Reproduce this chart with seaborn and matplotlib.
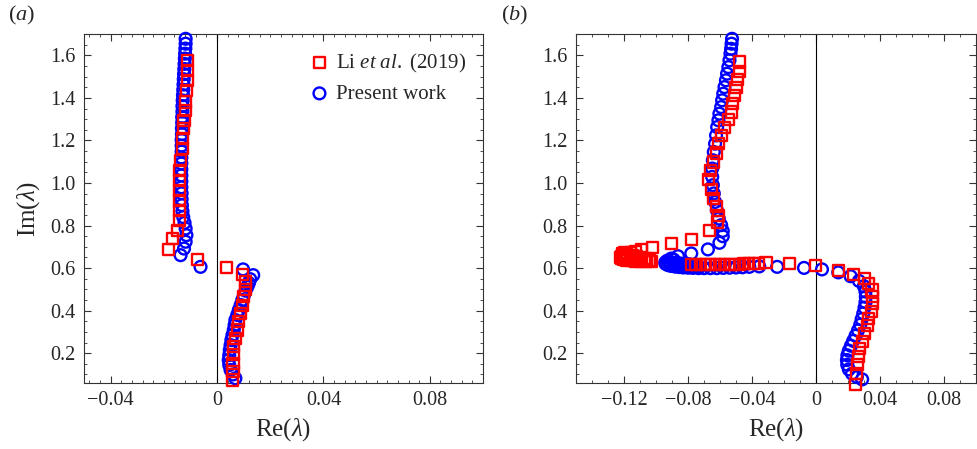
import numpy as np
import pandas as pd
import seaborn as sns
import matplotlib.pyplot as plt
from matplotlib.ticker import MultipleLocator, FixedLocator

# ---- panel (a) ----
a_li_re = [-0.0112, -0.0112, -0.0112, -0.0115, -0.0118, -0.0118, -0.0124, -0.0126, -0.0130, -0.0130,
           -0.0136, -0.0140, -0.0140, -0.0140, -0.0140, -0.0140, -0.0140, -0.0147, -0.0168, -0.0181,
           -0.0072, 0.0036,
           0.0095, 0.0107, 0.0107, 0.0101, 0.0095, 0.0088, 0.0082, 0.0076, 0.0069, 0.0063,
           0.0063, 0.0060, 0.0060, 0.0057]
a_li_im = [1.577, 1.530, 1.483, 1.436, 1.381, 1.342, 1.295, 1.256, 1.209, 1.162,
           1.107, 1.060, 1.013, 0.966, 0.919, 0.872, 0.825, 0.778, 0.739, 0.688,
           0.641, 0.603,
           0.572, 0.536, 0.500, 0.465, 0.426, 0.387, 0.348, 0.309, 0.270, 0.231,
           0.192, 0.153, 0.113, 0.074]

a_pw_re = [-0.0118, -0.0118, -0.0119, -0.0120, -0.0121, -0.0122, -0.0123, -0.0124, -0.0125, -0.0126,
           -0.0127, -0.0128, -0.0129, -0.0130, -0.0130, -0.0131, -0.0131, -0.0132, -0.0132, -0.0133,
           -0.0133, -0.0133, -0.0134, -0.0134, -0.0134, -0.0134, -0.0134, -0.0134, -0.0133, -0.0133,
           -0.0132, -0.0130, -0.0127, -0.0122, -0.0118, -0.0115, -0.0118, -0.0124, -0.0137, -0.0062,
           0.0098, 0.0136, 0.0125, 0.0120, 0.0114, 0.0107, 0.0101, 0.0095, 0.0089, 0.0082,
           0.0076, 0.0069, 0.0066, 0.0063, 0.0058, 0.0054, 0.0051, 0.0048, 0.0046, 0.0044,
           0.0046, 0.0051, 0.0060, 0.0069]
a_pw_im = [1.678, 1.655, 1.632, 1.608, 1.585, 1.560, 1.536, 1.512, 1.488, 1.463,
           1.438, 1.413, 1.388, 1.362, 1.336, 1.310, 1.284, 1.257, 1.230, 1.203,
           1.176, 1.148, 1.120, 1.092, 1.064, 1.036, 1.008, 0.980, 0.952, 0.924,
           0.896, 0.868, 0.840, 0.813, 0.786, 0.755, 0.724, 0.692, 0.661, 0.606,
           0.594, 0.567, 0.548, 0.530, 0.512, 0.494, 0.472, 0.450, 0.427, 0.403,
           0.380, 0.356, 0.332, 0.309, 0.285, 0.262, 0.238, 0.215, 0.191, 0.168,
           0.144, 0.121, 0.100, 0.082]

# ---- panel (b) ----
b_li_re = [-0.0479, -0.0479, -0.0490, -0.0500, -0.0510, -0.0521, -0.0531, -0.0546, -0.0573, -0.0593,
           -0.0608, -0.0624, -0.0641, -0.0662, -0.0670, -0.0655, -0.0641, -0.0620, -0.0608, -0.0614,
           -0.0666, -0.0780, -0.0904, -0.1023, -0.1090,
           -0.1130, -0.1160, -0.1185, -0.1205, -0.1218, -0.1222, -0.1218, -0.1205, -0.1185, -0.1160,
           -0.1130, -0.1095, -0.1060, -0.1027,
           -0.1210, -0.1195, -0.1200, -0.1190, -0.1175, -0.1155, -0.1130, -0.1100, -0.1070, -0.1040,
           -0.1150, -0.1120, -0.1090, -0.1060,
           -0.0780, -0.0750, -0.0720, -0.0690, -0.0660, -0.0630, -0.0600, -0.0570, -0.0540, -0.0510,
           -0.0480, -0.0450, -0.0420, -0.0390, -0.0360, -0.0313, -0.0168, -0.0002,
           0.0143, 0.0236, 0.0305, 0.0330, 0.0350, 0.0355, 0.0355, 0.0347, 0.0330, 0.0320,
           0.0305, 0.0288, 0.0272, 0.0263, 0.0257, 0.0251, 0.0247]
b_li_im = [1.569, 1.526, 1.486, 1.451, 1.412, 1.373, 1.334, 1.298, 1.261, 1.224,
           1.185, 1.141, 1.099, 1.060, 1.016, 0.969, 0.927, 0.888, 0.849, 0.817,
           0.775, 0.736, 0.716, 0.697, 0.685,
           0.679, 0.674, 0.668, 0.662, 0.656, 0.650, 0.645, 0.640, 0.637, 0.634,
           0.632, 0.631, 0.630, 0.630,
           0.668, 0.674, 0.660, 0.652, 0.646, 0.642, 0.639, 0.637, 0.636, 0.635,
           0.660, 0.655, 0.650, 0.645,
           0.618, 0.618, 0.618, 0.618, 0.618, 0.618, 0.618, 0.618, 0.619, 0.619,
           0.619, 0.620, 0.620, 0.621, 0.622, 0.625, 0.622, 0.614,
           0.587, 0.572, 0.552, 0.528, 0.497, 0.465, 0.434, 0.395, 0.364, 0.332,
           0.293, 0.254, 0.223, 0.184, 0.145, 0.106, 0.052]

b_pw_re = [-0.0525, -0.0528, -0.0531, -0.0535, -0.0541, -0.0548, -0.0556, -0.0563, -0.0572, -0.0580,
           -0.0587, -0.0593, -0.0604, -0.0610, -0.0618, -0.0625, -0.0631, -0.0639, -0.0645, -0.0649,
           -0.0649, -0.0645, -0.0639, -0.0631, -0.0620, -0.0608, -0.0593, -0.0583, -0.0583, -0.0604,
           -0.0676, -0.0780, -0.0863,
           -0.0905, -0.0930, -0.0942, -0.0940, -0.0925, -0.0905, -0.0880, -0.0855, -0.0830, -0.0800,
           -0.0890, -0.0915, -0.0925, -0.0915, -0.0890, -0.0860, -0.0830, -0.0800, -0.0770, -0.0740,
           -0.0880, -0.0850, -0.0820, -0.0790, -0.0760,
           -0.0770, -0.0735, -0.0700, -0.0660, -0.0620, -0.0580, -0.0540, -0.0500, -0.0460, -0.0417,
           -0.0355, -0.0243, -0.0075, 0.0037, 0.0139, 0.0216, 0.0268, 0.0299, 0.0309, 0.0311,
           0.0309, 0.0303, 0.0295, 0.0285, 0.0276, 0.0262, 0.0247, 0.0232, 0.0218, 0.0205,
           0.0196, 0.0193, 0.0195, 0.0205, 0.0225, 0.0255, 0.0288]
b_pw_im = [1.678, 1.655, 1.631, 1.608, 1.577, 1.545, 1.514, 1.483, 1.451, 1.420,
           1.389, 1.357, 1.326, 1.295, 1.263, 1.224, 1.185, 1.146, 1.107, 1.068,
           1.029, 0.990, 0.951, 0.911, 0.872, 0.833, 0.802, 0.775, 0.750, 0.719,
           0.688, 0.669, 0.656,
           0.645, 0.635, 0.627, 0.620, 0.614, 0.610, 0.607, 0.605, 0.603, 0.602,
           0.640, 0.630, 0.622, 0.615, 0.612, 0.612, 0.613, 0.614, 0.612, 0.608,
           0.625, 0.622, 0.620, 0.618, 0.615,
           0.601, 0.600, 0.600, 0.600, 0.600, 0.601, 0.602, 0.603, 0.604, 0.606,
           0.608, 0.606, 0.601, 0.594, 0.580, 0.562, 0.540, 0.515, 0.490, 0.465,
           0.440, 0.414, 0.387, 0.360, 0.334, 0.307, 0.282, 0.258, 0.235, 0.212,
           0.190, 0.168, 0.146, 0.124, 0.104, 0.088, 0.077]

LI = r'Li $\mathit{et\ al.}$ (2019)'
PW = 'Present work'

sns.set_style('ticks')
plt.rcParams['font.family'] = ['Liberation Serif', 'DejaVu Serif']
plt.rcParams['mathtext.fontset'] = 'custom'
plt.rcParams['mathtext.rm'] = 'Liberation Serif'
plt.rcParams['mathtext.it'] = 'Liberation Serif:italic'

fig = plt.figure(figsize=(9.78, 4.49), dpi=100)
ax1 = fig.add_axes([0.0859, 0.147, 0.408, 0.777])
ax2 = fig.add_axes([0.589, 0.147, 0.409, 0.777])


def draw(ax, li_re, li_im, pw_re, pw_im):
    ax.axvline(0, color='black', lw=0.8, zorder=1)
    sns.scatterplot(x=pw_re, y=pw_im, ax=ax, marker='o', s=72, facecolor='none',
                    edgecolor='#0000ff', linewidth=1.7, label=PW, clip_on=False, zorder=3)
    sns.scatterplot(x=li_re, y=li_im, ax=ax, marker='s', s=64, facecolor='none',
                    edgecolor='#ff0000', linewidth=1.7, label=LI, clip_on=False, zorder=4)
    ax.set_ylim(0.06, 1.70)
    ax.yaxis.set_major_locator(FixedLocator([0.2, 0.4, 0.6, 0.8, 1.0, 1.2, 1.4, 1.6]))
    ax.yaxis.set_minor_locator(MultipleLocator(0.05))
    ax.set_yticklabels(['0.2', '0.4', '0.6', '0.8', '1.0', '1.2', '1.4', '1.6'])
    ax.set_xlabel(r'Re($\lambda$)', fontsize=18, labelpad=4)
    ax.tick_params(which='both', direction='in', top=True, right=True, labelsize=14.5,
                   color='#333333', pad=6)
    ax.tick_params(which='major', length=5, width=0.8)
    ax.tick_params(which='minor', length=2.5, width=0.6)
    for sp in ax.spines.values():
        sp.set_linewidth(0.8)
        sp.set_color('#333333')
    ax.legend().remove()


draw(ax1, a_li_re, a_li_im, a_pw_re, a_pw_im)
ax1.set_xlim(-0.05, 0.1)
ax1.set_xticks([-0.04, 0, 0.04, 0.08])
ax1.set_xticklabels(['\u22120.04', '0', '0.04', '0.08'])
ax1.xaxis.set_minor_locator(MultipleLocator(0.004))
ax1.set_ylabel(r'Im($\lambda$)', fontsize=18, labelpad=6)

draw(ax2, b_li_re, b_li_im, b_pw_re, b_pw_im)
ax2.set_xlim(-0.15, 0.1)
ax2.set_xticks([-0.12, -0.08, -0.04, 0, 0.04, 0.08])
ax2.set_xticklabels(['\u22120.12', '\u22120.08', '\u22120.04', '0', '0.04', '0.08'])
ax2.xaxis.set_minor_locator(MultipleLocator(0.01))
ax2.set_ylabel('')

handles, labels = ax1.get_legend_handles_labels()
order = [labels.index(LI), labels.index(PW)]
ax1.legend([handles[i] for i in order], [labels[i] for i in order], frameon=False,
           loc='upper left', bbox_to_anchor=(0.53, 0.985), fontsize=15,
           handletextpad=0.25, handlelength=1.1, labelspacing=0.45, borderaxespad=0.2)

fig.text(0.008, 0.955, r'$(\mathit{a})$', fontsize=16)
fig.text(0.512, 0.955, r'$(\mathit{b})$', fontsize=16)

fig.savefig('out.png', dpi=100)
